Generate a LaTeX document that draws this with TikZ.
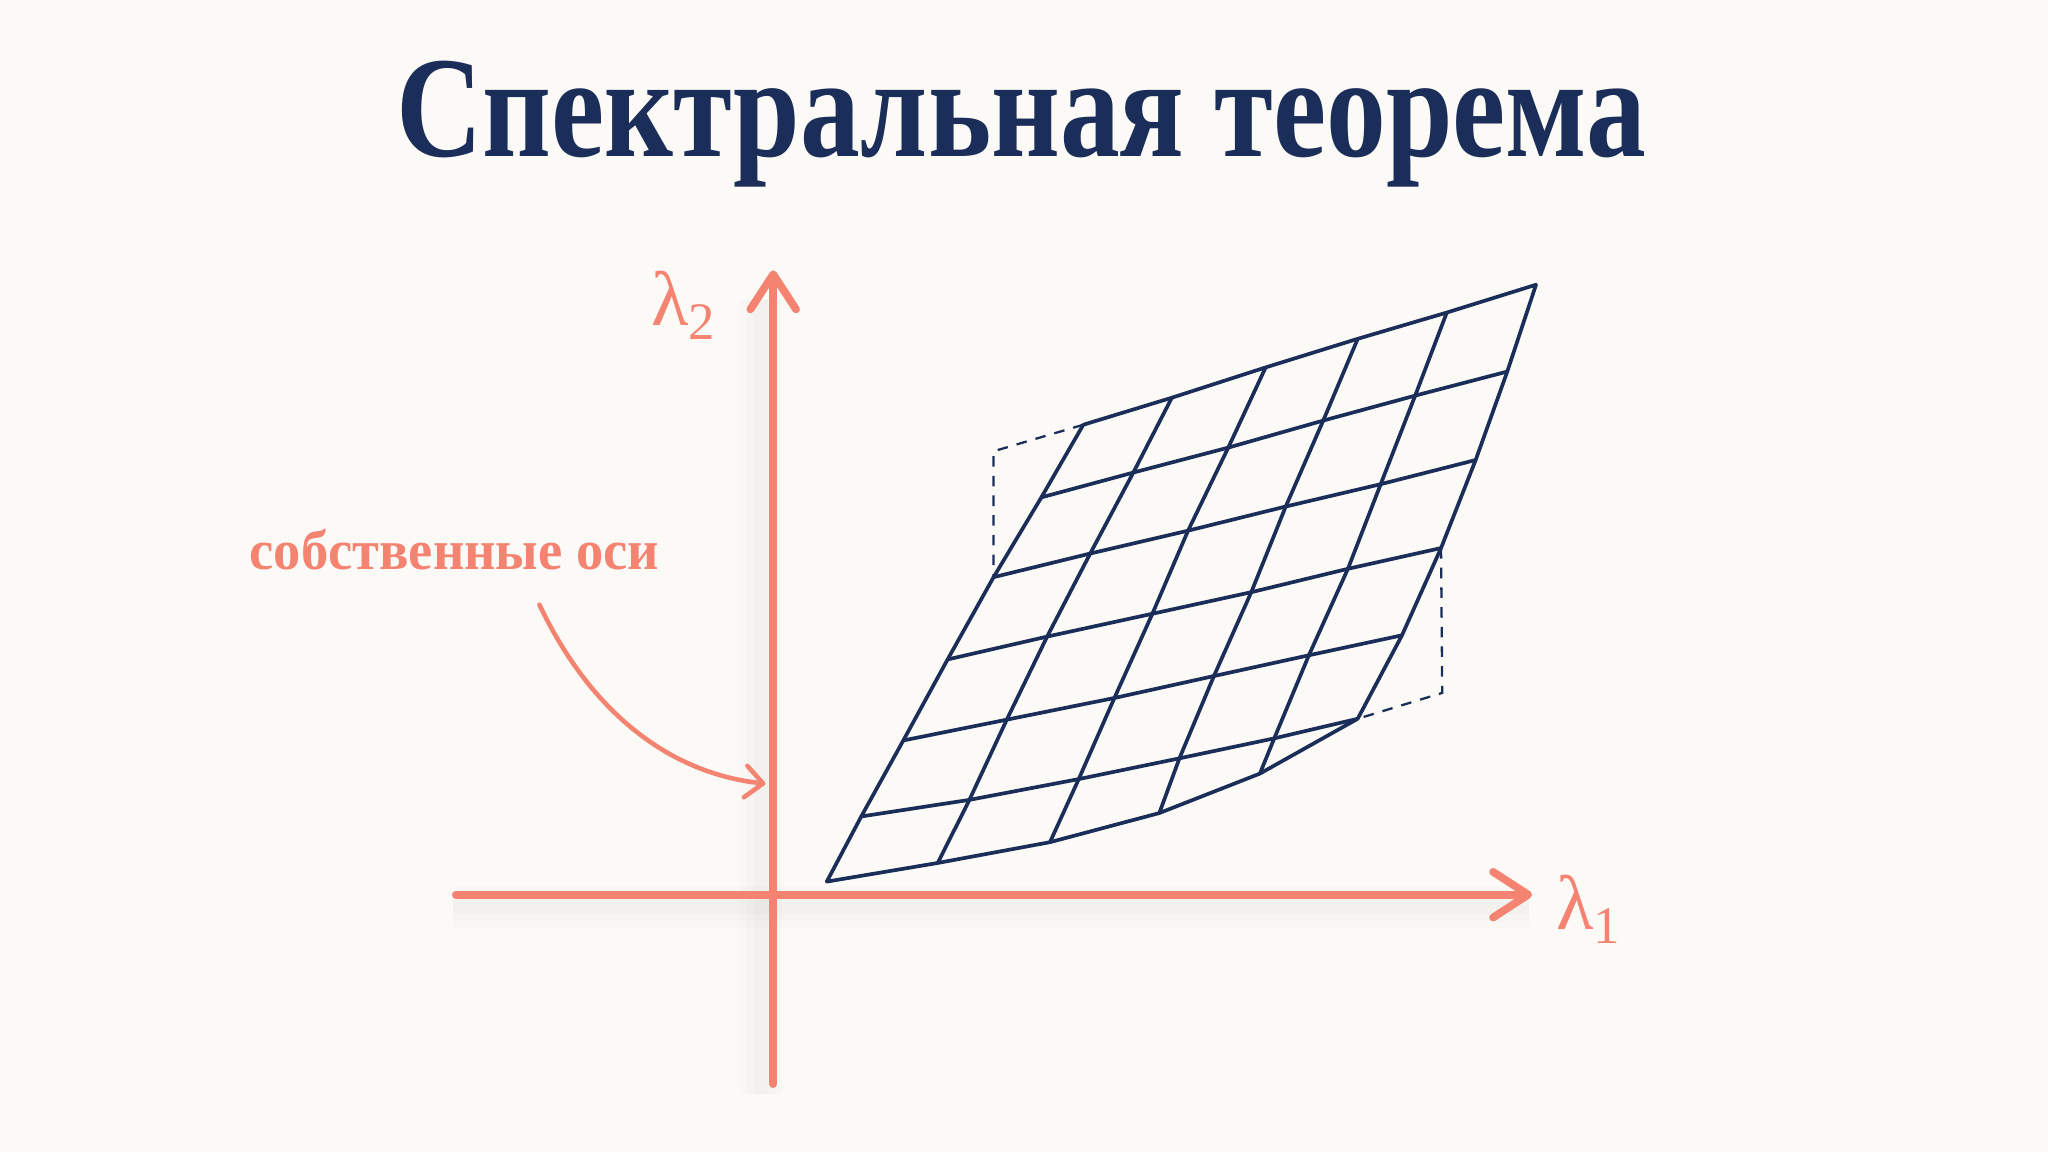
\documentclass[tikz,border=0pt]{standalone}
\usepackage{fontspec}
\setmainfont{Liberation Serif}
\usetikzlibrary{arrows.meta}
\definecolor{bg}{HTML}{FCFAF6}
\definecolor{navy}{HTML}{1B2D59}
\definecolor{salmon}{HTML}{F48471}
\tikzset{
  axisline/.style={draw=salmon,line width=2.2pt,line cap=round,
    -{Straight Barb[length=10pt,width=13pt,line width=2.2pt,line cap=round,line join=round]}},
  shadowline/.style={draw=black,opacity=0.011},
  gridline/.style={draw=navy,line width=1.05pt,line join=round,line cap=round},
  dashline/.style={draw=navy,line width=0.65pt,dash pattern=on 3pt off 2.6pt},
  pointer/.style={draw=salmon,line width=1.3pt,line cap=round,
    -{Straight Barb[length=5pt,width=9pt,line width=1.3pt,line cap=round,line join=round]}},
  lbl/.style={text=salmon,inner sep=0pt}
}
\begin{document}
\begin{tikzpicture}[x=0.013061cm,y=-0.013061cm]
\fill[bg] (0,0) rectangle (1568,882);
\useasboundingbox (0,0) rectangle (1568,882);

% title
\node[text=navy,font=\bfseries\fontsize{41}{48}\selectfont,anchor=base] (title) at (782,120) {\scalebox{0.83}[1]{Спектральная теорема}};

% grid points p-i-j (i column from left, j row from bottom)
\coordinate (p-0-6) at (829.4,325.2);
\coordinate (p-1-6) at (897.2,304.5);
\coordinate (p-2-6) at (969.0,281.3);
\coordinate (p-3-6) at (1039.5,259.4);
\coordinate (p-4-6) at (1107.7,239.3);
\coordinate (p-5-6) at (1176.0,218.0);
\coordinate (p-0-5) at (797.3,380.8);
\coordinate (p-1-5) at (867.7,361.8);
\coordinate (p-2-5) at (940.4,342.7);
\coordinate (p-3-5) at (1013.1,322.0);
\coordinate (p-4-5) at (1083.5,302.9);
\coordinate (p-5-5) at (1154.0,284.5);
\coordinate (p-0-4) at (760.7,441.9);
\coordinate (p-1-4) at (834.7,423.8);
\coordinate (p-2-4) at (909.6,406.3);
\coordinate (p-3-4) at (984.4,387.8);
\coordinate (p-4-4) at (1057.1,370.7);
\coordinate (p-5-4) at (1129.8,352.2);
\coordinate (p-0-3) at (725.5,504.9);
\coordinate (p-1-3) at (801.7,487.4);
\coordinate (p-2-3) at (882.3,469.9);
\coordinate (p-3-3) at (958.0,453.4);
\coordinate (p-4-3) at (1032.0,435.5);
\coordinate (p-5-3) at (1103.3,419.6);
\coordinate (p-0-2) at (691.6,566.9);
\coordinate (p-1-2) at (770.8,551.0);
\coordinate (p-2-2) at (853.2,534.4);
\coordinate (p-3-2) at (929.4,517.6);
\coordinate (p-4-2) at (1002.1,501.7);
\coordinate (p-5-2) at (1073.4,486.4);
\coordinate (p-0-1) at (659.4,625.1);
\coordinate (p-1-1) at (742.2,612.4);
\coordinate (p-2-1) at (825.9,596.5);
\coordinate (p-3-1) at (903.0,580.6);
\coordinate (p-4-1) at (975.6,565.3);
\coordinate (p-5-1) at (1039.5,550.3);
\coordinate (p-0-0) at (633.0,675.0);
\coordinate (p-1-0) at (718.0,660.7);
\coordinate (p-2-0) at (803.9,644.8);
\coordinate (p-3-0) at (887.6,622.5);
\coordinate (p-4-0) at (964.6,592.3);
\coordinate (p-5-0) at (1039.5,550.3);
% dashed corners
\coordinate (dTL) at (760.7,345.5);
\coordinate (dBR) at (1104.2,530.5);

% axes
\coordinate (xs) at (349,685);
\coordinate (xe) at (1173,685);
\coordinate (ys) at (592,830);
\coordinate (ye) at (592,207);
\foreach \w in {4,8,12}{
  \draw[shadowline,line width=\w pt] ([xshift=-0.03cm,yshift=-0.12cm]xs) -- ([xshift=-0.03cm,yshift=-0.12cm]xe);
  \draw[shadowline,line width=\w pt] ([xshift=-0.12cm,yshift=-0.1cm]ys) -- ([xshift=-0.12cm,yshift=-0.3cm]ye);
}

% dashed lines
\draw[dashline] (p-0-6) -- (dTL) -- (p-0-4);
\draw[dashline] (p-5-3) -- (dBR) -- (p-5-1);

% grid
\foreach \j in {0,...,6}{
  \draw[gridline] (p-0-\j) \foreach \i in {1,...,5}{ -- (p-\i-\j)};
}
\foreach \i in {0,...,5}{
  \draw[gridline] (p-\i-0) \foreach \j in {1,...,6}{ -- (p-\i-\j)};
}

\draw[axisline] (xs) -- (xe);
\draw[axisline] (ys) -- (ye);

% labels
\node[lbl,font=\fontsize{22}{26}\selectfont] (l2) at (523,234) {λ\raisebox{-0.4ex}{\fontsize{15}{18}\selectfont 2}};
\node[lbl,font=\fontsize{22}{26}\selectfont] (l1) at (1216,696) {λ\raisebox{-0.4ex}{\fontsize{15}{18}\selectfont 1}};
\node[lbl,font=\bfseries\fontsize{16}{20}\selectfont,anchor=base] (eig) at (348,436) {\scalebox{0.97}[1]{собственные оси}};

\coordinate (ps) at (413,463);
\coordinate (pe) at (586,600);
\draw[pointer] (ps) .. controls (452,545) and (512,592) .. (pe);
\end{tikzpicture}
\end{document}
